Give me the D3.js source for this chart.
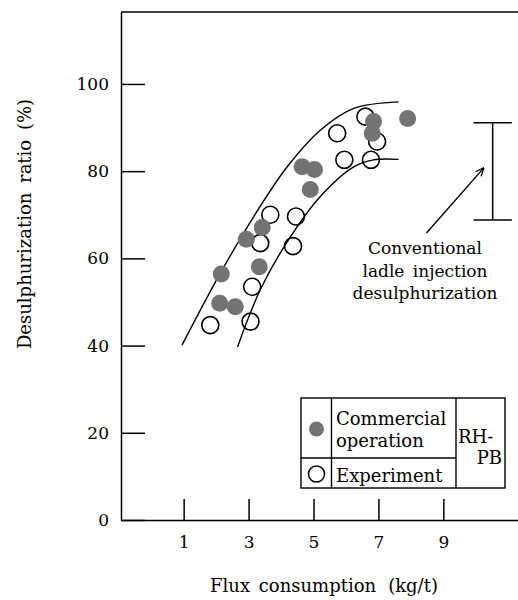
<!DOCTYPE html>
<html>
<head>
<meta charset="utf-8">
<script src="https://cdn.jsdelivr.net/npm/d3@7"></script>
<style>
  body { margin: 0; background: #fff; }
  text { font-family: "DejaVu Serif", serif; fill: #000; }
</style>
</head>
<body>
<div id="content"></div>
<script>
// datos
var commercialX = [4.65, 5.03, 4.90, 3.42, 2.93, 2.16, 3.33, 2.11, 2.59, 6.85, 6.81, 7.90];
var commercialY = [81.0, 80.4, 75.8, 67.1, 64.4, 56.4, 58.1, 49.7, 48.9, 91.4, 88.7, 92.1];

var experimentX = [3.67, 4.46, 3.36, 4.37, 3.11, 1.82, 3.06, 5.73, 6.60, 6.96, 6.77, 5.95];
var experimentY = [70.0, 69.6, 63.5, 62.8, 53.5, 44.7, 45.5, 88.7, 92.5, 86.8, 82.6, 82.6];

// curvas envolventes
var upperX = [0.95, 2.13, 3.16, 4.19, 5.21, 6.24, 7.62];
var upperY = [40.1, 56.6, 69.6, 81.0, 89.4, 94.4, 95.9];
var lowerX = [2.66, 3.36, 4.19, 5.21, 6.24, 6.85, 7.62];
var lowerY = [39.7, 52.8, 63.8, 74.2, 81.0, 82.6, 82.7];

// rango de la inyeccion convencional
var ladleX = 10.52;
var ladleRange = [68.8, 91.1];
var arrowFrom = [8.48, 65.8];
var arrowTo = [10.24, 80.7];

var xTicks = [1, 3, 5, 7, 9];
var yTicks = [0, 20, 40, 60, 80, 100];

// dimensiones
var width = 518;
var height = 600;
var mLeft = 121, mTop = 12, mBottom = 520;

var svg = d3.select("#content")
  .append("svg")
  .attr("width", width)
  .attr("height", height);

var x = d3.scaleLinear().domain([-0.93, 11.3]).range([mLeft, width]);
var y = d3.scaleLinear().domain([0, 116.5]).range([mBottom, mTop]);

// marco superior
svg.append("line")
  .attr("x1", mLeft).attr("x2", width)
  .attr("y1", mTop).attr("y2", mTop)
  .attr("stroke", "#000").attr("stroke-width", 1.5);

// eje y
var yAxis = svg.append("g")
  .attr("transform", "translate(" + mLeft + ",0)")
  .call(d3.axisLeft(y).tickValues(yTicks).tickSizeInner(-24).tickSizeOuter(0).tickPadding(12));
yAxis.select(".domain").attr("stroke-width", 1.5);
yAxis.selectAll(".tick line").attr("stroke-width", 1.5);
yAxis.selectAll(".tick text").attr("font-size", 17).attr("font-family", "DejaVu Serif");

// eje x
var xAxis = svg.append("g")
  .attr("transform", "translate(0," + mBottom + ")")
  .call(d3.axisBottom(x).tickValues(xTicks).tickSizeInner(-21).tickSizeOuter(0).tickPadding(16));
xAxis.select(".domain").attr("stroke-width", 1.5);
xAxis.selectAll(".tick line").attr("stroke-width", 1.5);
xAxis.selectAll(".tick text").attr("font-size", 17).attr("font-family", "DejaVu Serif");

// titulos
var xt = svg.append("text")
  .attr("x", 324).attr("y", 592)
  .attr("text-anchor", "middle")
  .attr("font-size", 18)
  .attr("word-spacing", 3);
xt.append("tspan").text("Flux consumption");
xt.append("tspan").attr("dx", 12).text("(kg/t)");

svg.append("text")
  .attr("transform", "translate(31,224) rotate(-90)")
  .attr("text-anchor", "middle")
  .attr("font-size", 18)
  .attr("word-spacing", 4)
  .text("Desulphurization ratio (%)");

// curvas
var line = d3.line()
  .x(function(d) { return x(d[0]); })
  .y(function(d) { return y(d[1]); })
  .curve(d3.curveCatmullRom);

[[upperX, upperY], [lowerX, lowerY]].forEach(function(c) {
  svg.append("path")
    .datum(c[0].map(function(v, i) { return [v, c[1][i]]; }))
    .attr("d", line)
    .attr("fill", "none")
    .attr("stroke", "#000")
    .attr("stroke-width", 1.4);
});

// puntos
var r = 8.5;
svg.append("g").selectAll("circle")
  .data(experimentX.map(function(v, i) { return [v, experimentY[i]]; }))
  .enter().append("circle")
  .attr("cx", function(d) { return x(d[0]); })
  .attr("cy", function(d) { return y(d[1]); })
  .attr("r", r)
  .attr("fill", "none")
  .attr("stroke", "#000")
  .attr("stroke-width", 1.6);

svg.append("g").selectAll("circle")
  .data(commercialX.map(function(v, i) { return [v, commercialY[i]]; }))
  .enter().append("circle")
  .attr("cx", function(d) { return x(d[0]); })
  .attr("cy", function(d) { return y(d[1]); })
  .attr("r", r)
  .attr("fill", "#737373");

// barra de rango convencional
var capW = 0.59;
svg.append("line")
  .attr("x1", x(ladleX)).attr("x2", x(ladleX))
  .attr("y1", y(ladleRange[0])).attr("y2", y(ladleRange[1]))
  .attr("stroke", "#000").attr("stroke-width", 1.5);
ladleRange.forEach(function(v) {
  svg.append("line")
    .attr("x1", x(ladleX - capW)).attr("x2", x(ladleX + capW))
    .attr("y1", y(v)).attr("y2", y(v))
    .attr("stroke", "#000").attr("stroke-width", 1.5);
});

// flecha
svg.append("defs").append("marker")
  .attr("id", "arrow")
  .attr("viewBox", "0 0 10 10")
  .attr("refX", 9).attr("refY", 5)
  .attr("markerWidth", 9).attr("markerHeight", 9)
  .attr("markerUnits", "userSpaceOnUse")
  .attr("orient", "auto")
  .append("path")
  .attr("d", "M0,1 L10,5 L0,9")
  .attr("fill", "none")
  .attr("stroke", "#000")
  .attr("stroke-width", 1.4);

svg.append("line")
  .attr("x1", x(arrowFrom[0])).attr("y1", y(arrowFrom[1]))
  .attr("x2", x(arrowTo[0])).attr("y2", y(arrowTo[1]))
  .attr("stroke", "#000").attr("stroke-width", 1.4)
  .attr("marker-end", "url(#arrow)");

var note = svg.append("text")
  .attr("text-anchor", "middle")
  .attr("font-size", 17);
["Conventional", "ladle injection", "desulphurization"].forEach(function(t, i) {
  note.append("tspan")
    .attr("x", 425).attr("y", 254 + i * 22.5)
    .attr("word-spacing", 3)
    .text(t);
});

// leyenda
var lg = svg.append("g").attr("stroke", "#000").attr("stroke-width", 1.4);
lg.append("rect").attr("x", 301).attr("y", 398).attr("width", 204).attr("height", 90).attr("fill", "none");
lg.append("line").attr("x1", 331.5).attr("x2", 331.5).attr("y1", 398).attr("y2", 488);
lg.append("line").attr("x1", 456).attr("x2", 456).attr("y1", 398).attr("y2", 488);
lg.append("line").attr("x1", 301).attr("x2", 456).attr("y1", 458).attr("y2", 458);

svg.append("circle").attr("cx", 316.5).attr("cy", 429).attr("r", 7.5).attr("fill", "#737373");
svg.append("circle").attr("cx", 316.5).attr("cy", 474).attr("r", 8)
  .attr("fill", "none").attr("stroke", "#000").attr("stroke-width", 1.5);

svg.append("text").attr("x", 336).attr("y", 425).attr("font-size", 18).text("Commercial");
svg.append("text").attr("x", 336).attr("y", 447).attr("font-size", 18).text("operation");
svg.append("text").attr("x", 336).attr("y", 482).attr("font-size", 18).text("Experiment");
svg.append("text").attr("x", 458).attr("y", 443).attr("font-size", 18).text("RH-");
svg.append("text").attr("x", 502).attr("y", 464).attr("text-anchor", "end").attr("font-size", 18).text("PB");
</script>
</body>
</html>
